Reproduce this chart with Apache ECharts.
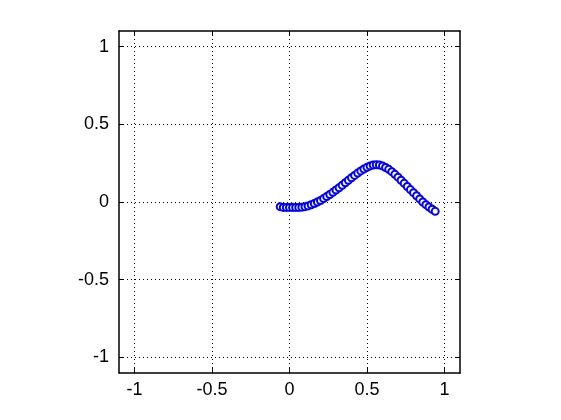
<!DOCTYPE html>
<html><head><meta charset="utf-8">
<script src="https://cdn.jsdelivr.net/npm/echarts@6/dist/echarts.min.js"></script>
<style>html,body{margin:0;padding:0;background:#fff}#c{width:561px;height:420px}</style>
</head><body><div id="c"></div>
<script>
var xValues = [-0.06,-0.04,-0.02,0,0.02,0.04,0.06,0.08,0.10,0.12,0.14,0.16,0.18,0.20,0.22,0.24,0.26,0.28,0.30,0.32,0.34,0.36,0.38,0.40,0.42,0.44,0.46,0.48,0.50,0.52,0.54,0.56,0.58,0.60,0.62,0.64,0.66,0.68,0.70,0.72,0.74,0.76,0.78,0.80,0.82,0.84,0.86,0.88,0.90,0.92,0.94];
var yValues = [-0.03,-0.035,-0.035,-0.035,-0.035,-0.035,-0.035,-0.033,-0.03,-0.025,-0.018,-0.01,0.0,0.01,0.022,0.035,0.048,0.062,0.077,0.092,0.108,0.124,0.14,0.156,0.171,0.186,0.2,0.212,0.223,0.232,0.238,0.24,0.238,0.232,0.222,0.21,0.195,0.178,0.16,0.14,0.12,0.1,0.08,0.06,0.04,0.02,0.0,-0.017,-0.032,-0.047,-0.06];
var xTicks = [-1, -0.5, 0, 0.5, 1];
var yTicks = [-1, -0.5, 0, 0.5, 1];

var chart = echarts.init(document.getElementById('c'), null, {renderer: 'canvas'});
var pts = xValues.map(function(x, i){ return [x, yValues[i]]; });
var fontFam = '"Liberation Sans", Arial, sans-serif';
var option = {
  animation: false,
  backgroundColor: '#fff',
  grid: {left: 119, right: 101, top: 31, bottom: 47, containLabel: false},
  xAxis: [
    {type: 'value', position: 'bottom', min: -1.1, max: 1.1,
     axisLine: {show: true, onZero: false, lineStyle: {color: '#000', width: 1.5}},
     axisTick: {show: true, inside: true, length: 5, customValues: xTicks, lineStyle: {color: '#000'}},
     axisLabel: {show: true, customValues: xTicks, margin: 8, color: '#000', fontSize: 18, fontFamily: fontFam},
     splitLine: {show: true, customValues: xTicks, lineStyle: {color: '#000', type: [1, 3], width: 1}}},
    {type: 'value', position: 'top', min: -1.1, max: 1.1,
     axisLine: {show: true, onZero: false, lineStyle: {color: '#000', width: 1.5}},
     axisTick: {show: true, inside: true, length: 5, customValues: xTicks, lineStyle: {color: '#000'}},
     axisLabel: {show: false}, splitLine: {show: false}}
  ],
  yAxis: [
    {type: 'value', position: 'left', min: -1.1, max: 1.1,
     axisLine: {show: true, onZero: false, lineStyle: {color: '#000', width: 1.5}},
     axisTick: {show: true, inside: true, length: 5, customValues: yTicks, lineStyle: {color: '#000'}},
     axisLabel: {show: true, customValues: yTicks, margin: 10, color: '#000', fontSize: 18, fontFamily: fontFam},
     splitLine: {show: true, customValues: yTicks, lineStyle: {color: '#000', type: [1, 3], width: 1}}},
    {type: 'value', position: 'right', min: -1.1, max: 1.1,
     axisLine: {show: true, onZero: false, lineStyle: {color: '#000', width: 1.5}},
     axisTick: {show: true, inside: true, length: 5, customValues: yTicks, lineStyle: {color: '#000'}},
     axisLabel: {show: false}, splitLine: {show: false}}
  ],
  series: [{
    type: 'scatter', xAxisIndex: 0, yAxisIndex: 0,
    data: pts, symbol: 'emptyCircle', symbolSize: 7,
    itemStyle: {color: '#0000ff', borderColor: '#0000ff', borderWidth: 1.5, opacity: 1}
  }]
};
chart.setOption(option);
</script></body></html>
